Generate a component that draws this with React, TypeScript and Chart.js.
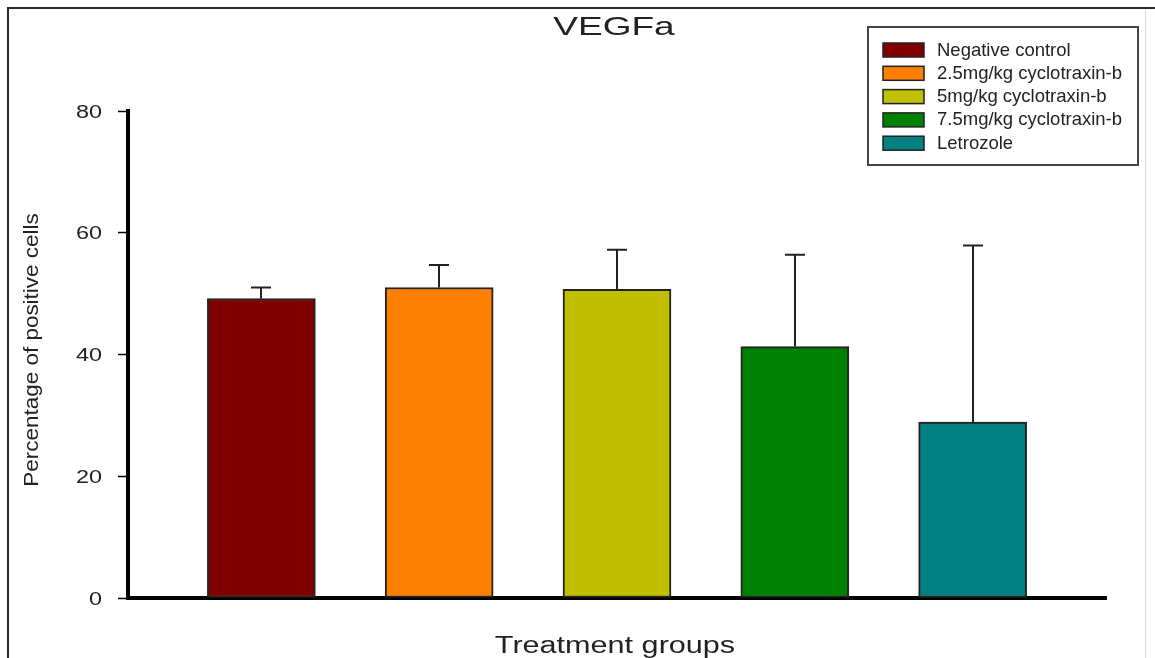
import React, { useEffect, useRef } from "react";
import { Chart, registerables } from "chart.js";

Chart.register(...registerables);

// ---- data ----
const categories = [
  "Negative control",
  "2.5mg/kg cyclotraxin-b",
  "5mg/kg cyclotraxin-b",
  "7.5mg/kg cyclotraxin-b",
  "Letrozole",
];
const means = [49.2, 51.0, 50.7, 41.3, 28.9];
const errors = [1.8, 3.7, 6.5, 15.1, 29.0];
const barColors = ["#800000", "#FF8000", "#C0C000", "#008000", "#008080"];
const yTicks = [0, 20, 40, 60, 80];
const titleText = "VEGFa";
const xTitleText = "Treatment groups";
const yTitleText = "Percentage of positive cells";

const FONT = "'Liberation Sans', Arial, Helvetica, sans-serif";
const TEXT_COLOR = "#222222";

function drawStretched(
  ctx: CanvasRenderingContext2D,
  text: string,
  x: number,
  y: number,
  size: number,
  sx: number,
  align: "left" | "center" | "right",
  rotate = false
) {
  ctx.save();
  ctx.font = `${size}px ${FONT}`;
  ctx.fillStyle = TEXT_COLOR;
  ctx.textBaseline = "alphabetic";
  ctx.textAlign = "left";
  const w = ctx.measureText(text).width * sx;
  const offset = align === "center" ? -w / 2 : align === "right" ? -w : 0;
  ctx.translate(x, y);
  if (rotate) ctx.rotate(-Math.PI / 2);
  ctx.translate(offset, 0);
  ctx.scale(sx, 1);
  ctx.fillText(text, 0, 0);
  ctx.restore();
}

const framePlugin = {
  id: "frame",
  beforeDraw(chart: any) {
    const ctx = chart.ctx as CanvasRenderingContext2D;
    ctx.save();
    ctx.fillStyle = "#ffffff";
    ctx.fillRect(0, 0, chart.width, chart.height);
    ctx.fillStyle = "#2a2a2a";
    ctx.fillRect(7, 7, chart.width - 7, 2);
    ctx.fillRect(7, 7, 2, chart.height - 7);
    ctx.fillStyle = "#dcdcdc";
    ctx.fillRect(1145, 9, 1, chart.height - 9);
    ctx.restore();
  },
};

const errorBarPlugin = {
  id: "errorBars",
  afterDatasetsDraw(chart: any) {
    const ctx = chart.ctx as CanvasRenderingContext2D;
    const meta = chart.getDatasetMeta(0);
    const yScale = chart.scales.y;
    ctx.save();
    ctx.strokeStyle = "#222222";
    ctx.lineWidth = 2;
    meta.data.forEach((bar: any, i: number) => {
      const x = Math.round(bar.x);
      const yTop = yScale.getPixelForValue(means[i] + errors[i]);
      const yBase = bar.y;
      ctx.beginPath();
      ctx.moveTo(x, yBase);
      ctx.lineTo(x, yTop);
      ctx.moveTo(x - 10, yTop);
      ctx.lineTo(x + 10, yTop);
      ctx.stroke();
    });
    ctx.restore();
  },
};

const textPlugin = {
  id: "texts",
  afterDraw(chart: any) {
    const ctx = chart.ctx as CanvasRenderingContext2D;
    const yScale = chart.scales.y;
    drawStretched(ctx, titleText, 614, 35, 25, 1.48, "center");
    drawStretched(ctx, xTitleText, 615, 653, 23, 1.33, "center");
    drawStretched(ctx, yTitleText, 38, 350, 21, 1.07, "center", true);
    yTicks.forEach((v) => {
      const py = yScale.getPixelForValue(v);
      drawStretched(ctx, String(v), 102, py + 6.5, 18, 1.3, "right");
    });
    ctx.save();
    ctx.strokeStyle = "#444444";
    ctx.lineWidth = 2;
    ctx.strokeRect(868, 27, 270, 138);
    categories.forEach((label, i) => {
      const top = 43 + i * 23.3;
      ctx.fillStyle = barColors[i];
      ctx.fillRect(883, top, 41, 14);
      ctx.strokeStyle = "#222222";
      ctx.lineWidth = 1.5;
      ctx.strokeRect(883, top, 41, 14);
      drawStretched(ctx, label, 937, top + 12.5, 18.5, 1.0, "left");
    });
    ctx.restore();
  },
};

export default function App() {
  const canvasRef = useRef<HTMLCanvasElement | null>(null);

  useEffect(() => {
    document.body.style.margin = "0";
    const canvas = canvasRef.current;
    if (!canvas) return;
    const chart = new Chart(canvas, {
      type: "bar",
      data: {
        labels: categories,
        datasets: [
          {
            label: "VEGFa",
            data: means.map((v, i) => ({ x: i, y: v })) as any,
            backgroundColor: barColors,
            borderColor: "#222222",
            borderWidth: 2,
            borderSkipped: false,
            barThickness: 108,
          },
        ],
      },
      options: {
        responsive: false,
        animation: false,
        devicePixelRatio: 1,
        layout: { padding: { left: 0, top: 111, right: 49, bottom: 0 } },
        plugins: {
          legend: { display: false },
          title: { display: false },
          tooltip: { enabled: false },
        },
        scales: {
          x: {
            type: "linear",
            offset: false,
            min: -0.75,
            max: 4.75,
            grid: { display: false, offset: false },
            ticks: { display: false },
            border: { display: true, width: 4, color: "#000000" },
            afterFit: (s: any) => {
              s.height = 60;
            },
          },
          y: {
            min: 0,
            max: 80,
            afterBuildTicks: (s: any) => {
              s.ticks = yTicks.map((v) => ({ value: v }));
            },
            grid: {
              display: true,
              drawOnChartArea: false,
              drawTicks: true,
              tickLength: 10,
              tickWidth: 1.5,
              tickColor: "#000000",
            },
            ticks: { display: false },
            border: { display: true, width: 4, color: "#000000" },
            afterFit: (s: any) => {
              s.width = 128;
            },
          },
        },
      } as any,
      plugins: [framePlugin, errorBarPlugin, textPlugin],
    });
    return () => chart.destroy();
  }, []);

  return (
    <div style={{ width: 1155, height: 658 }}>
      <canvas ref={canvasRef} width={1155} height={658} style={{ display: "block" }} />
    </div>
  );
}
